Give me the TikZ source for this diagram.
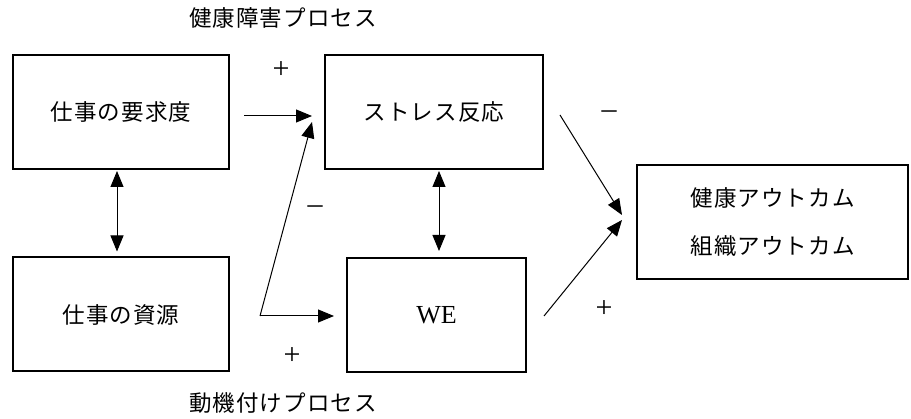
\documentclass[tikz,border=0pt]{standalone}
\usepackage{fontspec}
\setmainfont{Liberation Serif}
\newfontfamily\jpfont[LetterSpace=5]{Noto Sans CJK JP}
\usetikzlibrary{arrows.meta,calc}
\begin{document}
\begin{tikzpicture}[x=1pt,y=-1pt,
  box/.style={draw,line width=2pt,minimum width=#1,minimum height=114pt,inner sep=0pt,font=\jpfont\fontsize{22.5}{26}\selectfont},
  arr/.style={line width=1pt,-{Triangle[length=16pt,width=13pt]}},
  darr/.style={line width=1pt,{Triangle[length=16pt,width=13pt]}-{Triangle[length=16pt,width=13pt]}},
  sign/.style={font=\fontsize{30}{32}\selectfont,inner sep=0pt},
  head/.style={font=\jpfont\fontsize{22.5}{26}\selectfont,inner sep=0pt}]
\useasboundingbox (0,0) rectangle (911,419);
\node[box=216pt] (A) at (121,112) {仕事の要求度};
\node[box=218pt] (B) at (434,112) {ストレス反応};
\node[box=216pt] (C) at (121,314.5) {仕事の資源};
\node[box=179pt,font=\fontsize{26}{28}\selectfont] (D) at (436.5,315) {WE};
\node[box=271pt,align=center,font=\jpfont\fontsize{22.5}{48}\selectfont] (E) at (772.5,222) {健康アウトカム\\組織アウトカム};
\node[head] (h1) at (283,18) {健康障害プロセス};
\node[head] (h2) at (283,403) {動機付けプロセス};
% arrows
\draw[arr] ($(A.east)+(14,4)$) -- ($(B.west)+(-12,4)$);
\draw[darr] ($(A.south)+(-4,1)$) -- ($(C.north)+(-4,-5)$);
\draw[darr] ($(B.south)+(5,1)$) -- ($(D.north)+(2.5,-6)$);
\coordinate (k) at ($(C.east)+(30,1.5)$);
\draw[arr] (k) -- ($(B.west)+(-12,10)$);
\draw[arr] (k) -- ($(D.west)+(-12,1)$);
\draw[arr] ($(B.east)+(16,3)$) -- ($(E.west)+(-14,-7)$);
\draw[arr] ($(D.east)+(17,1)$) -- ($(E.west)+(-14,-2)$);
% signs
\node[sign] (s1) at (281,70) {+};
\node[sign] (s2) at (315,210) {\textendash};
\node[sign] (s3) at (292,356) {+};
\node[sign] (s4) at (609,115) {\textendash};
\node[sign] (s5) at (604,309) {+};
\end{tikzpicture}
\end{document}
